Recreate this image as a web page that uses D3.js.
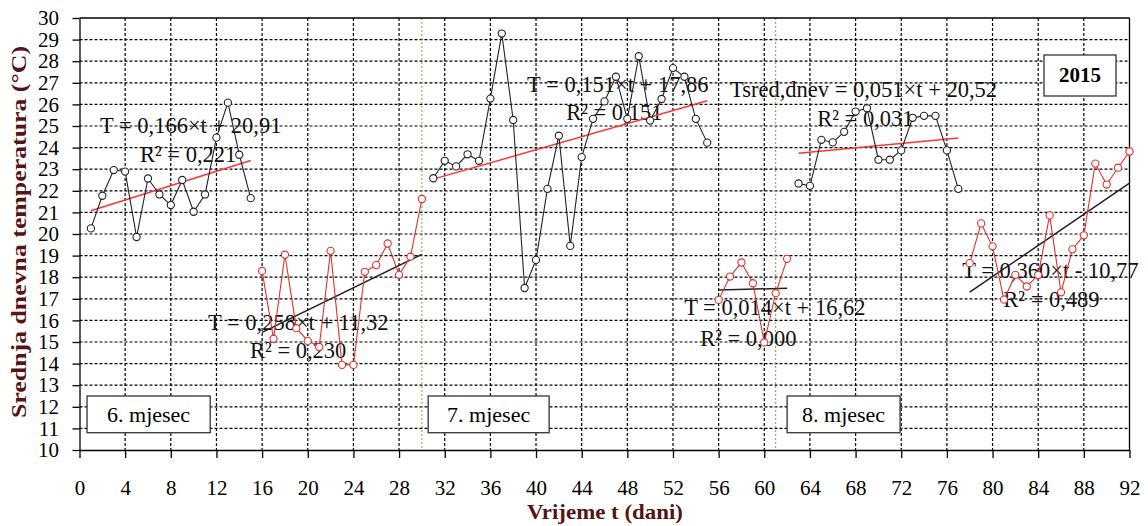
<!DOCTYPE html>
<html>
<head>
<meta charset="utf-8">
<script src="https://cdn.jsdelivr.net/npm/d3@7"></script>
<style>
  body { margin: 0; background: #fff; }
  svg { display: block; }
  text { font-family: "Liberation Serif", "Times New Roman", serif; }
</style>
</head>
<body>
<div id="main"></div>
<script>
const ctx = {
    w: 1148,
    h: 526,
    left: 79.5,
    right: 1129.5,
    top: 18,
    bottom: 450,
    RED: "#e0302c",
    TREND_RED: "#ff3434",
    TITLE: "#561414",
    OLIVE: "#8a9a3a",
    EQ_SIZE: 22.5,
};

// axis ticks
const tickDays = d3.range(0, 93, 4);
const tickTemps = d3.range(10, 31, 1);

// daily mean temperatures (t = first day + index)
const juneA = [20.26, 21.77, 22.96, 22.89, 19.86, 22.57, 21.83, 21.34, 22.5, 21.03, 21.83, 24.46, 26.08, 23.67, 21.66];
const juneB = [18.29, 15.15, 19.04, 15.64, 15.05, 14.77, 19.22, 13.94, 13.94, 18.25, 18.56, 19.56, 18.11, 18.95, 21.62];
const julyA = [22.58, 23.39, 23.13, 23.69, 23.39, 26.27, 29.28, 25.28, 17.5, 18.8, 22.09, 24.55, 19.45, 23.56, 25.33,
               26.14, 27.28, 25.33, 28.23, 25.25, 26.25, 27.68, 27.28, 25.33, 24.23];
const julyB = [16.95, 18.03, 18.68, 17.72, 14.98, 17.26, 18.85];
const augA  = [22.34, 22.23, 24.36, 24.24, 24.73, 25.67, 25.82, 23.44, 23.44, 23.87, 25.38, 25.47, 25.47, 23.87, 22.09];
const augB  = [18.65, 20.49, 19.43, 16.96, 18.11, 17.57, 18.1, 20.86, 17.3, 19.29, 19.94, 23.26, 22.29, 23.07, 23.82];

const firstDays = [1, 16, 31, 56, 63, 78];
// regression coefficients [slope, intercept] shown on the chart
const trendCoefs = [[0.166, 20.91], [0.258, 11.32], [0.151, 17.86], [0.014, 16.62], [0.051, 20.52], [0.360, -10.77]];

const eqTexts = ["T = 0,166×t + 20,91", "R² = 0,221",
                 "T = 0,258×t + 11,32", "R² = 0,230",
                 "T = 0,151×t + 17,86", "R² = 0,151",
                 "T = 0,014×t + 16,62", "R² = 0,000",
                 "Tsred,dnev = 0,051×t + 20,52", "R² = 0,031",
                 "T = 0,360×t - 10,77", "R² = 0,489"];
// label anchors in data units [t, T]
const eqAnchors = [[1.8, 24.68], [5.3, 23.33],
                   [11.26, 15.56], [14.94, 14.26],
                   [39.22, 26.57], [42.64, 25.28],
                   [52.98, 16.25], [54.38, 14.81],
                   [57.0, 26.34], [64.64, 25.0],
                   [77.35, 17.96], [80.94, 16.62]];

const monthNames = ["6. mjesec", "7. mjesec", "8. mjesec"];
const monthBoxDays = [[0.66, 11.45], [30.55, 41.15], [62.0, 71.9]];
const monthEnds = [30, 61];

const x = d3.scaleLinear().domain([0, 92]).range([ctx.left, ctx.right]);
const y = d3.scaleLinear().domain([10, 30]).range([ctx.bottom, ctx.top]);

function createViz(){
    const svg = d3.select("#main").append("svg")
        .attr("width", ctx.w).attr("height", ctx.h);
    svg.append("rect").attr("width", ctx.w).attr("height", ctx.h).attr("fill", "#fff");

    // dashed grid
    const grid = svg.append("g").attr("stroke", "#000").attr("stroke-width", 1.2).attr("stroke-dasharray", "3,2");
    grid.selectAll("line.h").data(tickTemps.filter(d => d > 10 && d < 30)).enter().append("line")
        .attr("x1", ctx.left).attr("x2", ctx.right)
        .attr("y1", d => y(d)).attr("y2", d => y(d));
    grid.selectAll("line.v").data(tickDays.filter(d => d > 0 && d < 92)).enter().append("line")
        .attr("y1", ctx.top).attr("y2", ctx.bottom)
        .attr("x1", d => x(d)).attr("x2", d => x(d));

    // month separators
    svg.append("g").selectAll("line").data(monthEnds).enter().append("line")
        .attr("x1", d => x(d)).attr("x2", d => x(d))
        .attr("y1", ctx.top).attr("y2", ctx.bottom)
        .attr("stroke", ctx.OLIVE).attr("stroke-width", 1).attr("stroke-dasharray", "2,2");

    // frame: top and right solid
    svg.append("line").attr("x1", ctx.left).attr("x2", ctx.right).attr("y1", y(30)).attr("y2", y(30))
        .attr("stroke", "#000").attr("stroke-width", 1.3);
    svg.append("line").attr("x1", x(92)).attr("x2", x(92)).attr("y1", ctx.top).attr("y2", ctx.bottom)
        .attr("stroke", "#000").attr("stroke-width", 1.3);

    // axes
    const xAxis = svg.append("g").attr("transform", "translate(0," + ctx.bottom + ")")
        .call(d3.axisBottom(x).tickValues(tickDays).tickSize(8).tickSizeOuter(0).tickPadding(22));
    const yAxis = svg.append("g").attr("transform", "translate(" + ctx.left + ",0)")
        .call(d3.axisLeft(y).tickValues(tickTemps).tickSize(7).tickSizeOuter(0).tickPadding(13.5));
    [xAxis, yAxis].forEach(function(a){
        a.selectAll("path, line").attr("stroke", "#000").attr("stroke-width", 1.3);
        a.selectAll("text").attr("font-size", 21).attr("fill", "#000")
            .style("font-family", '"Liberation Serif", "Times New Roman", serif');
    });

    // month boxes
    const boxes = svg.append("g");
    monthNames.forEach(function(name, i){
        const x0 = x(monthBoxDays[i][0]), x1 = x(monthBoxDays[i][1]);
        boxes.append("rect").attr("x", x0).attr("y", y(12.5)).attr("width", x1 - x0).attr("height", y(10.8) - y(12.5))
            .attr("fill", "#fff").attr("stroke", "#333").attr("stroke-width", 1.3);
        boxes.append("text").attr("x", (x0 + x1) / 2).attr("y", y(11.65)).attr("dy", "0.35em")
            .attr("text-anchor", "middle").attr("font-size", 22).text(name);
    });

    // year box
    svg.append("rect").attr("x", 1044).attr("y", 55).attr("width", 72).attr("height", 41)
        .attr("fill", "#fff").attr("stroke", "#333").attr("stroke-width", 1.3);
    svg.append("text").attr("x", 1080).attr("y", 82).attr("text-anchor", "middle")
        .attr("font-size", 21).attr("font-weight", "bold").text("2015");

    // equation labels
    svg.append("g").selectAll("text").data(eqTexts).enter().append("text")
        .attr("x", (d, i) => x(eqAnchors[i][0]))
        .attr("y", (d, i) => y(eqAnchors[i][1]))
        .attr("font-size", ctx.EQ_SIZE).attr("fill", "#111").text(d => d);

    // series
    const series = [juneA, juneB, julyA, julyB, augA, augB].map(function(temps, i){
        return {
            pts: temps.map((v, j) => ({t: firstDays[i] + j, v: v})),
            color: i % 2 === 0 ? "#222" : ctx.RED,
            trendColor: i % 2 === 0 ? ctx.TREND_RED : "#222",
            coef: trendCoefs[i],
        };
    });

    const line = d3.line().x(d => x(d.t)).y(d => y(d.v));

    series.forEach(function(s){
        const t0 = s.pts[0].t, t1 = s.pts[s.pts.length - 1].t;
        svg.append("path")
            .datum([{t: t0, v: s.coef[0] * t0 + s.coef[1]}, {t: t1, v: s.coef[0] * t1 + s.coef[1]}])
            .attr("d", line).attr("fill", "none").attr("stroke", s.trendColor).attr("stroke-width", 1.5);
    });

    series.forEach(function(s){
        const g = svg.append("g");
        g.append("path").datum(s.pts).attr("d", line)
            .attr("fill", "none").attr("stroke", s.color).attr("stroke-width", 1.1);
        g.selectAll("circle").data(s.pts).enter().append("circle")
            .attr("cx", d => x(d.t)).attr("cy", d => y(d.v)).attr("r", 3.6)
            .attr("fill", "#fff").attr("stroke", s.color).attr("stroke-width", 1.1);
    });

    // axis titles
    svg.append("text").attr("transform", "translate(26,232) rotate(-90)")
        .attr("text-anchor", "middle").attr("font-size", 22).attr("font-weight", "bold")
        .attr("textLength", 372).attr("lengthAdjust", "spacingAndGlyphs")
        .attr("fill", ctx.TITLE).text("Srednja dnevna temperatura (°C)");
    svg.append("text").attr("x", 605).attr("y", 519)
        .attr("text-anchor", "middle").attr("font-size", 22).attr("font-weight", "bold")
        .attr("textLength", 156).attr("lengthAdjust", "spacingAndGlyphs")
        .attr("fill", ctx.TITLE).text("Vrijeme t (dani)");
}

createViz();
</script>
</body>
</html>
